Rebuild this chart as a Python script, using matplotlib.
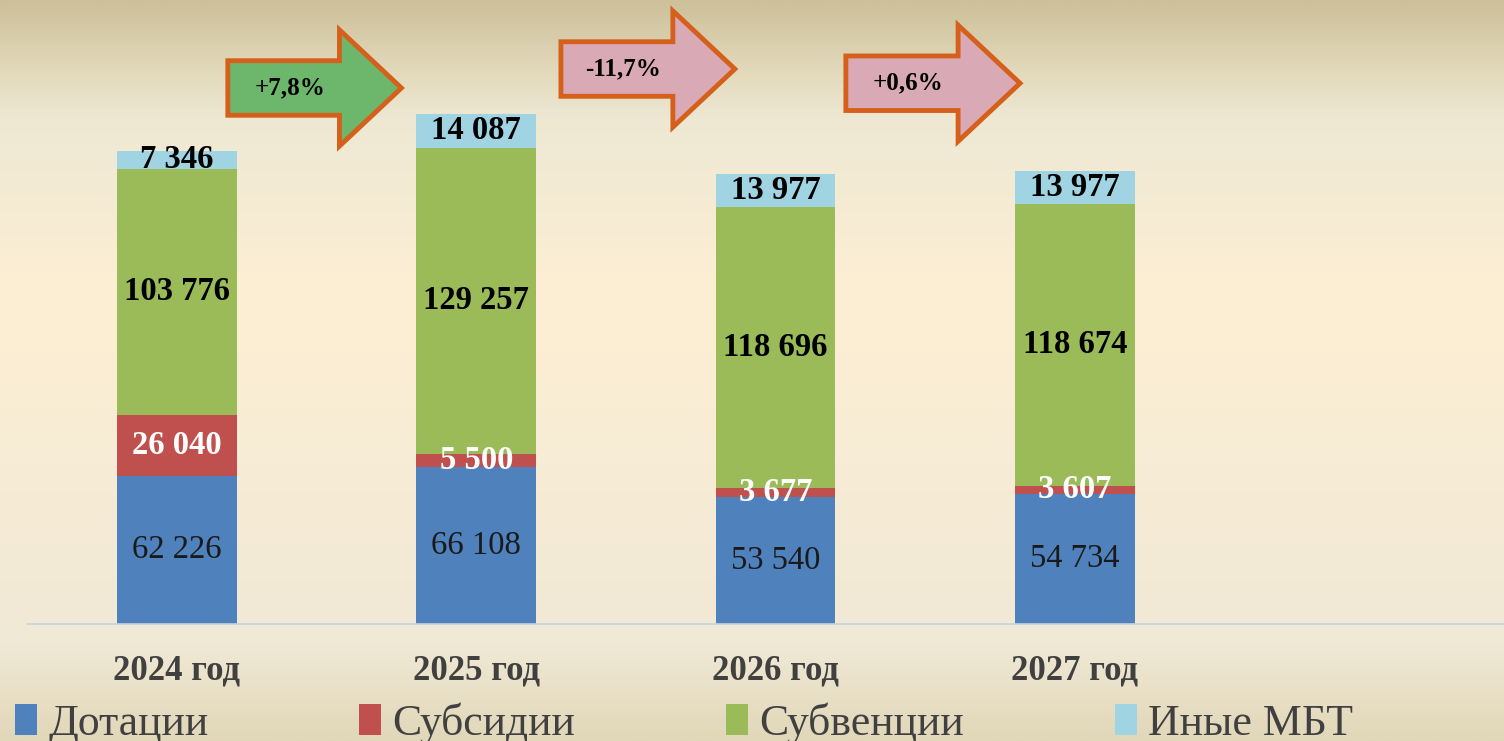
import numpy as np
import matplotlib.pyplot as plt
from matplotlib.colors import LinearSegmentedColormap
from matplotlib.patches import Polygon, Patch

plt.rcParams['font.family'] = ['Liberation Serif', 'DejaVu Serif']

years = ['2024 год', '2025 год', '2026 год', '2027 год']
dotacii = [62226, 66108, 53540, 54734]
subsidii = [26040, 5500, 3677, 3607]
subvencii = [103776, 129257, 118696, 118674]
inye = [7346, 14087, 13977, 13977]
series_names = ['Дотации', 'Субсидии', 'Субвенции', 'Иные МБТ']
colors = ['#4f81bd', '#c0504d', '#9bbb59', '#a0d4e3']
label_colors = ['#1a1a1a', 'white', 'black', 'black']
label_weights = ['normal', 'bold', 'bold', 'bold']

changes = ['+7,8%', '-11,7%', '+0,6%']
change_fill = ['#6cb76c', '#d9aab6', '#d9aab6']
# arrow placement (x from/to in bar units, y centre in thousands)
arrow_x = [(0.17, 0.75), (1.283, 1.864), (2.235, 2.817)]
arrow_y = [226, 234, 228]

fig = plt.figure(figsize=(15.04, 7.41), dpi=100)

# background gradient
bg = fig.add_axes([0, 0, 1, 1], zorder=-10)
cmap = LinearSegmentedColormap.from_list('bg', [
    (0.0, '#cdc09a'), (0.1, '#e4dbbd'), (0.16, '#eee8d4'),
    (0.4, '#fdefd3'), (0.7, '#f5ebd6'), (0.87, '#f0e9d5'), (1.0, '#e1d7b9')])
bg.imshow(np.linspace(0, 1, 256).reshape(-1, 1), aspect='auto', cmap=cmap,
          extent=[0, 1, 0, 1], origin='upper')
bg.axis('off')

ax = fig.add_axes([27 / 1504, 117 / 741, 1 - 27 / 1504, 1 - 117 / 741])
ax.patch.set_alpha(0)

x = np.arange(len(years))
vals = np.array([dotacii, subsidii, subvencii, inye], dtype=float) / 1000
bottom = np.zeros(len(years))
width = 0.40
for k in range(4):
    ax.bar(x, vals[k], width, bottom=bottom, color=colors[k], zorder=2)
    for i in range(len(years)):
        txt = f"{int(round(vals[k][i] * 1000)):,}".replace(',', ' ')
        ax.text(x[i], bottom[i] + vals[k][i] / 2, txt, ha='center', va='center',
                fontsize=23.5, color=label_colors[k], fontweight=label_weights[k], zorder=3)
    bottom += vals[k]

ax.set_xlim(-0.501, 4.434)
ax.set_ylim(0, 263.1)
ax.set_yticks([])
ax.set_xticks(x)
ax.set_xticklabels(years, fontsize=25, fontweight='bold', color='#404040')
ax.tick_params(axis='x', length=0, pad=22)
for s in ['top', 'left', 'right']:
    ax.spines[s].set_visible(False)
ax.spines['bottom'].set_color('#c8d2dd')
ax.spines['bottom'].set_linewidth(1.2)

# change arrows
body_h, head_h, head_l = 11.5, 24.5, 0.207
for (x0, x1), yc, fc, lab in zip(arrow_x, arrow_y, change_fill, changes):
    xh = x1 - head_l
    pts = [(x0, yc - body_h), (xh, yc - body_h), (xh, yc - head_h), (x1, yc),
           (xh, yc + head_h), (xh, yc + body_h), (x0, yc + body_h)]
    ax.add_patch(Polygon(pts, closed=True, facecolor=fc, edgecolor='#d5601c',
                         linewidth=3.5, joinstyle='miter', clip_on=False, zorder=4))
    ax.text((x0 + xh) / 2 + 0.02, yc, lab, ha='center', va='center', fontsize=18,
            fontweight='bold', color='black', zorder=5)

handles = [Patch(facecolor=c) for c in colors]
fig.legend(handles, series_names, loc='center left', bbox_to_anchor=(0.004, 18 / 741),
           ncol=4, frameon=False, fontsize=31.5, handlelength=0.5, handleheight=0.7,
           handletextpad=0.26, columnspacing=3.45, borderaxespad=0, borderpad=0.2,
           labelcolor='#404040')

fig.savefig('out.png', dpi=100)
